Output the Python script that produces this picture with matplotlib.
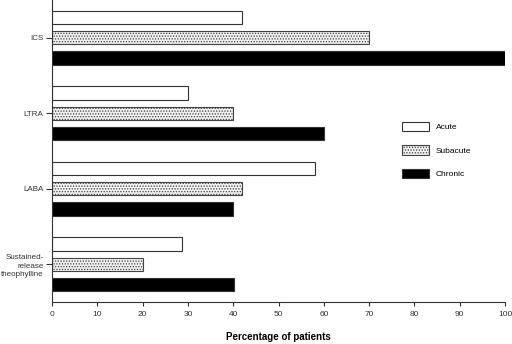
import numpy as np
import matplotlib
matplotlib.use('Agg')
import matplotlib.pyplot as plt
from matplotlib.patches import Patch

plt.rcParams['font.family'] = ['Liberation Sans', 'DejaVu Sans']
plt.rcParams['hatch.color'] = '#888888'
plt.rcParams['hatch.linewidth'] = 0.6

categories = ['ICS', 'LTRA', 'LABA', 'Sustained-\nrelease\ntheophylline']
series = ['Acute', 'Subacute', 'Chronic']
acute = [42, 30, 58, 28.7]
subacute = [70, 40, 42, 20]
chronic = [100, 60, 40, 40.2]

fig = plt.figure(figsize=(5.12, 3.44), dpi=100)
ax = fig.add_axes([0.1016, 0.122, 0.8848, 0.878])

y = np.arange(len(categories))
h = 0.175
off = 0.268
styles = [dict(facecolor='white', edgecolor='#333333'),
          dict(facecolor='#f0f0f0', edgecolor='#444444', hatch='......'),
          dict(facecolor='black', edgecolor='#333333')]
ax.barh(y - off, acute, height=h, linewidth=0.8, **styles[0])
ax.barh(y, subacute, height=h, linewidth=0.8, **styles[1])
ax.barh(y + off, chronic, height=h, linewidth=0.8, **styles[2])

ax.set_ylim(3.5, -0.5)
ax.set_xlim(0, 100)
ax.set_yticks(y)
ax.set_yticklabels(categories, fontsize=5.8, color='#333333', linespacing=1.3)
ax.set_xticks(np.arange(0, 101, 10))
ax.tick_params(axis='x', labelsize=6, colors='#333333', length=3, width=0.8)
ax.tick_params(axis='y', length=4, width=0.8, colors='#333333', pad=2)
for lbl in ax.get_yticklabels():
    lbl.set_multialignment('right')
ax.spines['top'].set_visible(False)
ax.spines['right'].set_visible(False)
ax.spines['left'].set_color('#333333')
ax.spines['bottom'].set_color('#333333')
ax.set_xlabel('Percentage of patients', fontsize=7, fontweight='bold', labelpad=10)

handles = [Patch(linewidth=0.8, label=s, **st) for s, st in zip(series, styles)]
ax.legend(handles=handles, loc='center left', bbox_to_anchor=(0.773, 0.503), frameon=False,
          fontsize=6, handlelength=3.25, handleheight=1.3, labelspacing=1.7,
          handletextpad=0.8, borderpad=0, borderaxespad=0)

fig.savefig('out.png', dpi=100)
